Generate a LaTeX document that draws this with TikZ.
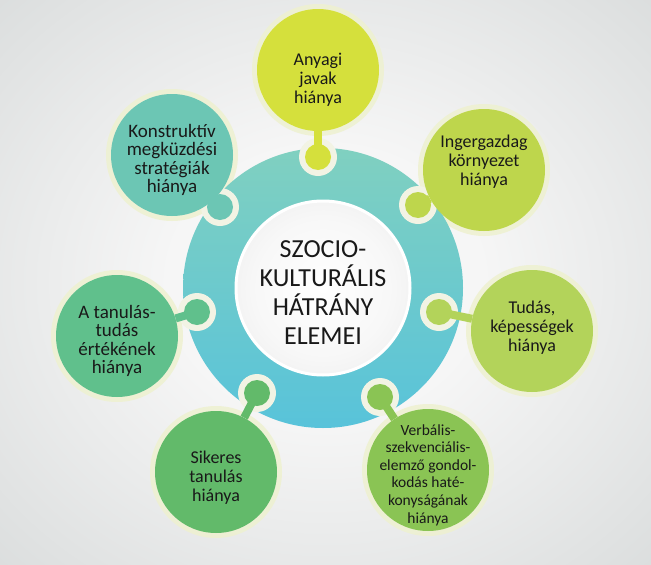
\documentclass[tikz,border=0pt]{standalone}
\usepackage{fontspec}
\setmainfont{Carlito}
\usetikzlibrary{calc}
\definecolor{bgin}{HTML}{F6F6F6}
\definecolor{bgout}{HTML}{CBCFCF}
\definecolor{ringtop}{HTML}{80D0C0}
\definecolor{ringbot}{HTML}{58C3DA}
\definecolor{cream}{HTML}{F2F3E4}
\definecolor{glow}{HTML}{EEF1D0}
\definecolor{cA}{HTML}{D5E03C}
\definecolor{cB}{HTML}{BED64C}
\definecolor{cC}{HTML}{B3D35A}
\definecolor{cD}{HTML}{8AC454}
\definecolor{cE}{HTML}{62BA6A}
\definecolor{cF}{HTML}{60C08C}
\definecolor{cG}{HTML}{6CC6B4}
\pgfdeclareradialshading{bgshade}{\pgfpoint{0bp}{0bp}}{color(0bp)=(bgin); color(12bp)=(bgin); color(50bp)=(bgout); color(72bp)=(bgout)}
\pgfdeclareradialshading{innershade}{\pgfpoint{0bp}{0bp}}{color(0bp)=(white); color(20bp)=(white!97!black); color(50bp)=(white!88!black)}
\tikzset{
  sat/.style={circle, inner sep=0pt, minimum size=122pt, align=center, text=black!90},
  satglow/.style={circle, fill=glow, opacity=0.85, inner sep=0pt, minimum size=132pt},
  rim/.style={circle, fill=cream, inner sep=0pt, minimum size=38pt},
  knob/.style={circle, inner sep=0pt, minimum size=26pt},
  stem/.style={line width=8pt},
  lbl/.style={align=center, font=\fontsize{18}{19}\selectfont, text=black!90},
}
\begin{document}
\begin{tikzpicture}[x=1pt,y=-1pt]
\useasboundingbox (0,0) rectangle (651,565);
\shade[shading=bgshade] (0,0) rectangle (651,565);
% glows
\foreach \p in {(318,70),(484,170),(532,331),(428,470),(216,472),(117,336),(172,155)}
  \node[satglow] at \p {};
% ring
\coordinate (C) at (323,288);
\path[top color=ringtop, bottom color=ringbot] (C) circle (140);
\node[circle, shading=innershade, draw=white, line width=3pt, minimum size=174pt, inner sep=0pt] (inner) at (C) {};
% knob rims
\node[rim] (r1) at (318,157) {};
\node[rim] (r2) at (418,205) {};
\node[rim] (r3) at (439,312) {};
\node[rim] (r4) at (380,397) {};
\node[rim] (r5) at (257,393) {};
\node[rim] (r6) at (197,312) {};
\node[rim] (r7) at (220,207) {};
% knobs
\node[knob, fill=cA] (k1) at (r1) {};
\node[knob, fill=cB] (k2) at (r2) {};
\node[knob, fill=cC] (k3) at (r3) {};
\node[knob, fill=cD] (k4) at (r4) {};
\node[knob, fill=cE] (k5) at (r5) {};
\node[knob, fill=cF] (k6) at (r6) {};
\node[knob, fill=cG] (k7) at (r7) {};
% satellites
\node[sat, fill=cA] (s1) at (318,70) {};
\node[sat, fill=cB] (s2) at (484,170) {};
\node[sat, fill=cC] (s3) at (532,331) {};
\node[sat, fill=cD] (s4) at (428,470) {};
\node[sat, fill=cE] (s5) at (216,472) {};
\node[sat, fill=cF] (s6) at (117,336) {};
\node[sat, fill=cG] (s7) at (172,155) {};
% stems
\draw[stem, cA] (k1.center) -- (s1);
\draw[stem, cB] (k2.center) -- (s2);
\draw[stem, cC] (k3.center) -- (s3);
\draw[stem, cD] (k4.center) -- (s4);
\draw[stem, cE] (k5.center) -- (s5);
\draw[stem, cF] (k6.center) -- (s6);
\draw[stem, cG] (k7.center) -- (s7);
% labels
\node[lbl] (t1) at (318,80) {Anyagi\\javak\\hiánya};
\node[lbl] (t2) at (484,162) {Ingergazdag\\környezet\\hiánya};
\node[lbl] (t3) at (532,328) {Tudás,\\képességek\\hiánya};
\node[lbl, font=\fontsize{15.5}{17.6}\selectfont] (t4) at (428,475) {Verbális-\\szekvenciális-\\elemző gondol-\\kodás haté-\\konyságának\\hiánya};
\node[lbl] (t5) at (216,478) {Sikeres\\tanulás\\hiánya};
\node[lbl, font=\fontsize{19}{18.3}\selectfont] (t6) at (117,341) {A tanulás-\\tudás\\értékének\\hiánya};
\node[lbl, font=\fontsize{19}{18.3}\selectfont] (t7) at (172,160) {Konstruktív\\megküzdési\\stratégiák\\hiánya};
\node[align=center, font=\fontsize{26}{29}\selectfont, text=black!90] (tc) at (323,293) {SZOCIO-\\KULTURÁLIS\\HÁTRÁNY\\ELEMEI};
\end{tikzpicture}
\end{document}
